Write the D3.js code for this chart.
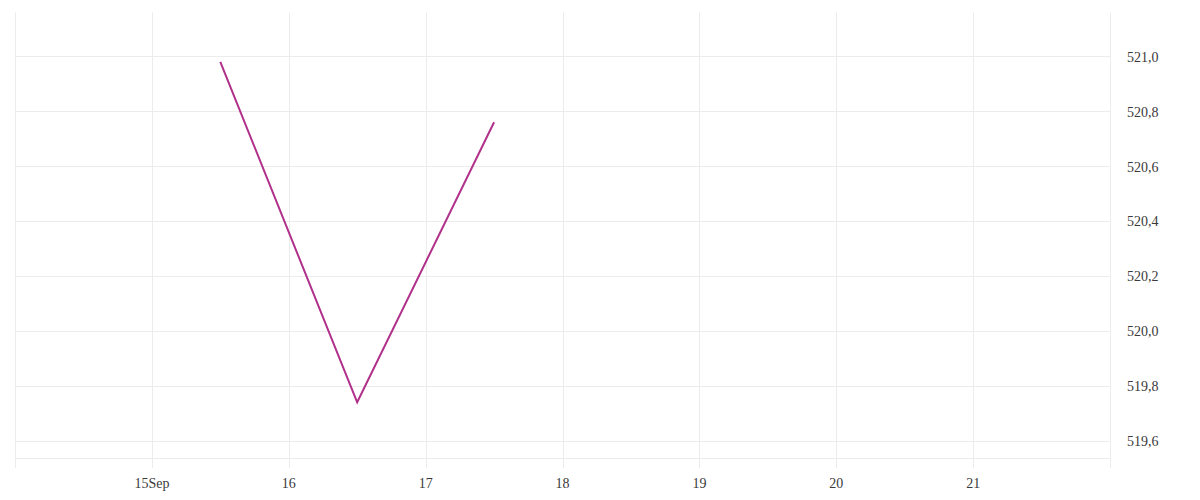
<!DOCTYPE html>
<html><head><meta charset="utf-8">
<script src="https://cdn.jsdelivr.net/npm/d3@7/dist/d3.min.js"></script>
<style>body{margin:0;background:#fff}svg{display:block}</style>
</head><body>
<svg id="c" width="1200" height="500"></svg>
<script>
const dates = ["2023-09-15T12:00","2023-09-16T12:00","2023-09-17T12:00"];
const values = [520.98, 519.74, 520.76];
const xTicks = ["2023-09-15","2023-09-16","2023-09-17","2023-09-18","2023-09-19","2023-09-20","2023-09-21"];
const xTickLabels = ["15Sep","16","17","18","19","20","21"];
const yTicks = [519.6, 519.8, 520.0, 520.2, 520.4, 520.6, 520.8, 521.0];
const xDomain = ["2023-09-14","2023-09-22"];
const yDomain = [519.536, 521.16];

const parse = d3.timeParse("%Y-%m-%dT%H:%M");
const parseDay = d3.timeParse("%Y-%m-%d");
const svg = d3.select("#c");
const L = 15, R = 1110, T = 12.5, B = 458.3;
const x = d3.scaleTime().domain(xDomain.map(parseDay)).range([L, R]);
const y = d3.scaleLinear().domain(yDomain).range([B, T]);
const grid = "#ececec";
const font = "'Liberation Serif', 'DejaVu Serif', serif";

// horizontal grid
svg.append("g").selectAll("line").data(yTicks).join("line")
  .attr("x1", L).attr("x2", R)
  .attr("y1", d => Math.round(y(d)) + 0.5).attr("y2", d => Math.round(y(d)) + 0.5)
  .attr("stroke", grid).attr("stroke-width", 1);
// bottom line
svg.append("line").attr("x1", L).attr("x2", R).attr("y1", Math.round(B)+0.5).attr("y2", Math.round(B)+0.5)
  .attr("stroke", grid);
// vertical grid + borders
const xt = xTicks.map(parseDay);
svg.append("g").selectAll("line").data(xt).join("line")
  .attr("x1", d => Math.round(x(d)) + 0.5).attr("x2", d => Math.round(x(d)) + 0.5)
  .attr("y1", T).attr("y2", 468)
  .attr("stroke", grid);
[L, R].forEach(px => svg.append("line").attr("x1", px+0.5).attr("x2", px+0.5).attr("y1", T).attr("y2", 468).attr("stroke", grid));

// x labels
svg.append("g").selectAll("text").data(xt).join("text")
  .attr("x", d => x(d)).attr("y", 488)
  .attr("text-anchor", "middle")
  .attr("font-family", font).attr("font-size", 14).attr("fill", "#3a3a3a")
  .text((d, i) => xTickLabels[i]);

// y labels
const fmt = d3.format(".1f");
svg.append("g").selectAll("text").data(yTicks).join("text")
  .attr("x", 1127).attr("y", d => y(d)).attr("dy", "0.38em")
  .attr("font-family", font).attr("font-size", 14).attr("fill", "#3a3a3a")
  .text(d => fmt(d).replace(".", ","));

// line
const pts = dates.map((d, i) => [parse(d), values[i]]);
svg.append("path").datum(pts)
  .attr("fill", "none").attr("stroke", "#b0308a").attr("stroke-width", 2)
  .attr("d", d3.line().x(d => x(d[0])).y(d => y(d[1])));
</script>
</body></html>
